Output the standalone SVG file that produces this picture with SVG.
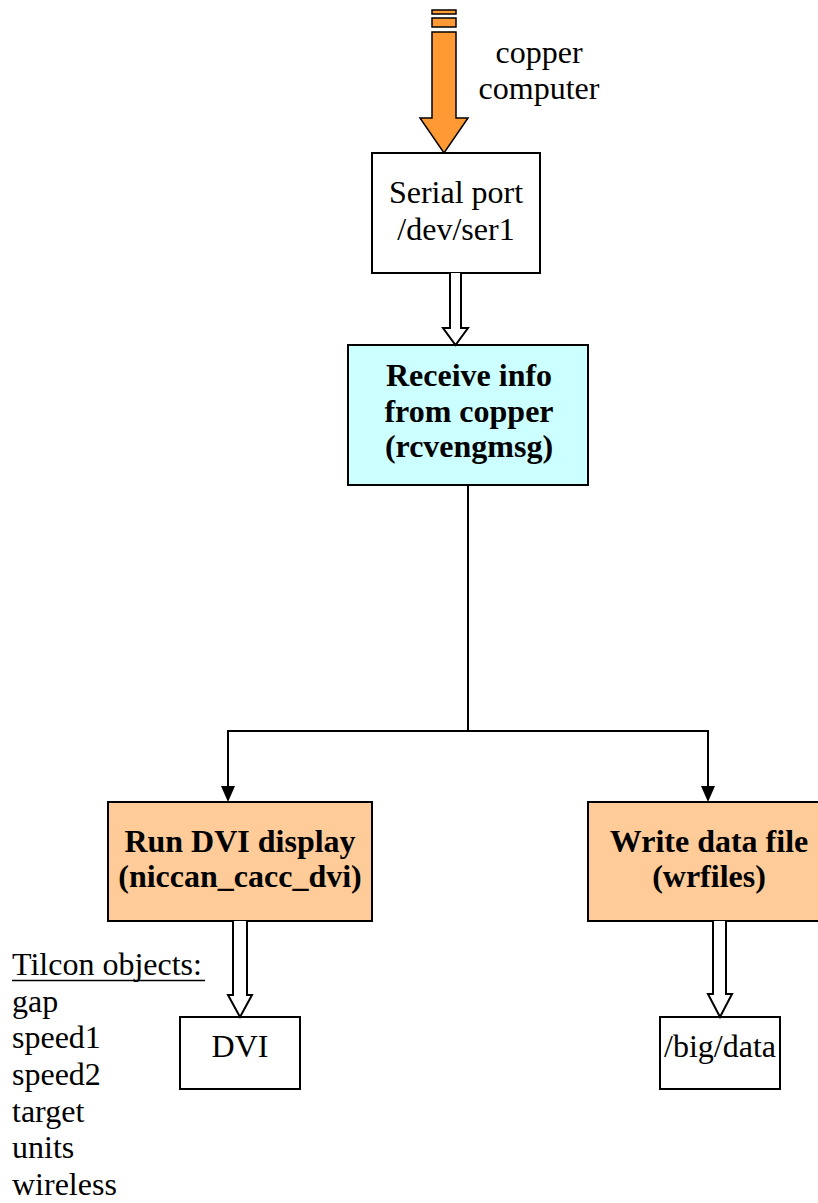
<svg xmlns="http://www.w3.org/2000/svg" width="818" height="1203" viewBox="0 0 818 1203">
<style>
text{font-family:"Liberation Serif","Times New Roman",serif;font-size:32px;fill:#000}
.b{font-weight:bold}
.m{text-anchor:middle}
.box{stroke:#000;stroke-width:2}
.con{fill:none;stroke:#000;stroke-width:2}
.hollow{fill:#fff;stroke:#000;stroke-width:2;stroke-linejoin:miter}
</style>
<defs>
<marker id="ah" markerWidth="14" markerHeight="16" refX="7" refY="16" orient="auto-start-reverse" markerUnits="userSpaceOnUse" viewBox="0 0 14 16">
<path d="M0,0 L14,0 L7,16 Z" fill="#000" transform="rotate(0)"/>
</marker>
</defs>
<rect width="818" height="1203" fill="#fff"/>

<g id="source">
<rect x="432" y="10" width="24" height="4" fill="#ff9933" stroke="#000" stroke-width="1.5"/>
<rect x="432" y="18" width="24" height="9" fill="#ff9933" stroke="#000" stroke-width="1.5"/>
<path d="M432,32 L456,32 L456,118 L468,118 L444,153 L420,118 L432,118 Z" fill="#ff9933" stroke="#000" stroke-width="1.5"/>
<text class="m" x="539" y="63">copper</text>
<text class="m" x="539" y="99">computer</text>
</g>

<g id="serial">
<rect class="box" x="372" y="153" width="168" height="120" fill="#fff"/>
<text class="m" x="456" y="203">Serial port</text>
<text class="m" x="456" y="240">/dev/ser1</text>
</g>

<g id="receive">
<rect class="box" x="348" y="345" width="240" height="140" fill="#ccffff"/>
<text class="m b" x="469" y="386">Receive info</text>
<text class="m b" x="469" y="422">from copper</text>
<text class="m b" x="469" y="457">(rcvengmsg)</text>
</g>

<g id="rundvi">
<rect class="box" x="108" y="802" width="264" height="119" fill="#ffcc99"/>
<text class="m b" x="240" y="852">Run DVI display</text>
<text class="m b" x="240" y="887">(niccan_cacc_dvi)</text>
</g>

<g id="writedata">
<rect class="box" x="588" y="802" width="240" height="119" fill="#ffcc99"/>
<text class="m b" x="709" y="852">Write data file</text>
<text class="m b" x="709" y="887">(wrfiles)</text>
</g>

<g id="dvi">
<rect class="box" x="180" y="1017" width="120" height="72" fill="#fff"/>
<text class="m" x="240" y="1057">DVI</text>
</g>

<g id="bigdata">
<rect class="box" x="660" y="1017" width="120" height="72" fill="#fff"/>
<text class="m" x="720" y="1057">/big/data</text>
</g>

<g id="tilcon">
<text x="12" y="975">Tilcon objects:</text>
<line x1="12" y1="980.5" x2="205" y2="980.5" stroke="#000" stroke-width="1.5"/>
<text x="12" y="1011.7">gap</text>
<text x="12" y="1048.3">speed1</text>
<text x="12" y="1085">speed2</text>
<text x="12" y="1121.7">target</text>
<text x="12" y="1158.3">units</text>
<text x="12" y="1195">wireless</text>
</g>

<g id="connectors">
<path class="hollow" d="M450,273 L450,328 L443,328 L455.5,345 L468,328 L461,328 L461,273"/>
<path class="hollow" d="M233,921 L233,995 L228,995 L240,1017 L252,995 L247,995 L247,921"/>
<path class="hollow" d="M713,921 L713,994 L708,994 L720,1017 L732,994 L726,994 L726,921"/>
<line class="con" x1="468" y1="485" x2="468" y2="731"/>
<polyline class="con" points="228,786 228,731 708,731 708,786"/>
<path d="M221,786 L235,786 L228,802 Z" fill="#000"/>
<path d="M701,786 L715,786 L708,802 Z" fill="#000"/>
</g>
</svg>
